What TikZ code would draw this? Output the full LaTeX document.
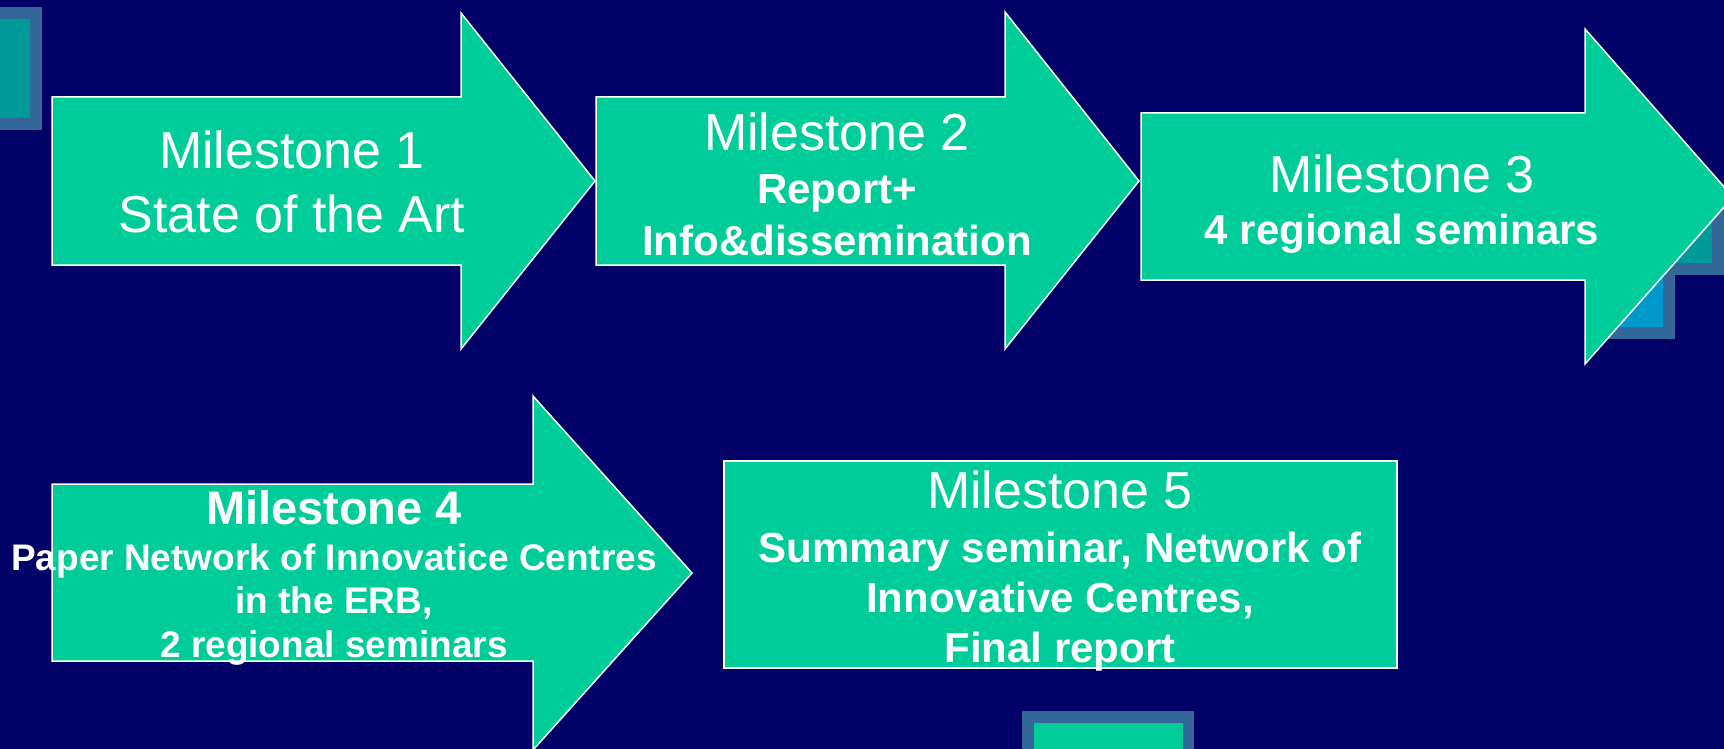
\documentclass[tikz,border=0pt]{standalone}
\usepackage{fontspec}
\setmainfont{Liberation Sans}
\usepackage{tikz}

\definecolor{navyback}{HTML}{000066}
\definecolor{arrowgreen}{HTML}{00CC99}
\definecolor{sqsteel}{HTML}{336699}
\definecolor{sqteal}{HTML}{009999}
\definecolor{sqblue}{HTML}{0099CC}

\begin{document}
\begin{tikzpicture}[x=1pt, y=-1pt, line width=1.5pt,
  msline/.style={text=white, anchor=base, inner sep=0pt, font=\fontsize{52}{62}\selectfont},
  msbold/.style={text=white, anchor=base, inner sep=0pt, font=\bfseries\fontsize{42}{50}\selectfont},
  mssmall/.style={text=white, anchor=base, inner sep=0pt, font=\bfseries\fontsize{37}{44}\selectfont},
  msarrow/.style={color=white, fill=arrowgreen, line join=miter}]

\useasboundingbox (0,0) rectangle (1724,749);

% draw background
\fill[color=navyback] (0,0) rectangle (1724,749);

% draw decoration squares
\fill[color=sqsteel] (-20,7) rectangle (42,130);
\fill[color=sqteal] (-20,19) rectangle (30,118);

\fill[color=sqsteel] (1592,230) rectangle (1675,339);
\fill[color=sqblue] (1604,242) rectangle (1663,327);
\fill[color=sqsteel] (1600,195) rectangle (1730,275);
\fill[color=sqteal] (1612,207) rectangle (1712,263);

\fill[color=sqsteel] (1022,711) rectangle (1194,760);
\fill[color=arrowgreen] (1034,723) rectangle (1183,760);

% draw arrows of the first row
\filldraw[msarrow] (52,97) -- (461,97) -- (461,13) -- (595,181)
                -- (461,349) -- (461,265) -- (52,265) -- cycle;
\filldraw[msarrow] (596,97) -- (1005,97) -- (1005,12) -- (1139,181)
                -- (1005,349) -- (1005,265) -- (596,265) -- cycle;
\filldraw[msarrow] (1141,113) -- (1585,113) -- (1585,29) -- (1733,197)
                -- (1585,364) -- (1585,280) -- (1141,280) -- cycle;

% draw second row
\filldraw[msarrow] (52,484) -- (533,484) -- (533,396) -- (692,573)
                -- (533,750) -- (533,661) -- (52,661) -- cycle;
\filldraw[msarrow] (724,461) rectangle (1397,668);

% draw labels
\node[msline] (ms1title) at (292,168) {Milestone 1};
\node[msline] (ms1text) at (292,232) {State of the Art};

\node[msline] (ms2title) at (837,150) {Milestone 2};
\node[msbold] (ms2texta) at (837,203) {Report+};
\node[msbold] (ms2textb) at (837,255) {Info\&dissemination};

\node[msline] (ms3title) at (1402,192) {Milestone 3};
\node[msbold] (ms3text) at (1402,244) {4 regional seminars};

\node[msbold, font=\bfseries\fontsize{47}{55}\selectfont] (ms4title) at (334,524) {Milestone 4};
\node[mssmall] (ms4texta) at (334,570) {Paper Network of Innovatice Centres};
\node[mssmall] (ms4textb) at (334,613) {in the ERB,};
\node[mssmall] (ms4textc) at (334,657) {2 regional seminars};

\node[msline] (ms5title) at (1060,508) {Milestone 5};
\node[msbold] (ms5texta) at (1060,562) {Summary seminar, Network of};
\node[msbold] (ms5textb) at (1060,612) {Innovative Centres,};
\node[msbold] (ms5textc) at (1060,662) {Final report};

\end{tikzpicture}
\end{document}
